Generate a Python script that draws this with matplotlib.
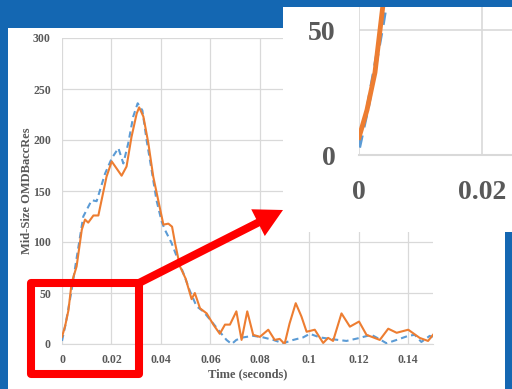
import matplotlib.pyplot as plt
from matplotlib.patches import Rectangle, FancyArrow

plt.rcParams["font.family"] = ["Liberation Serif", "DejaVu Serif"]
plt.rcParams["font.weight"] = "bold"
plt.rcParams["axes.labelweight"] = "bold"

# ---------- data ----------
t_orange = [0, 0.0013, 0.0026, 0.0039, 0.0059, 0.008, 0.0093, 0.0106, 0.0127, 0.0147,
            0.016, 0.018, 0.0201, 0.0221, 0.0241, 0.0261, 0.0281, 0.0302, 0.0312, 0.0329,
            0.0349, 0.0369, 0.0389, 0.041, 0.043, 0.0445, 0.0457, 0.0477, 0.05, 0.0524,
            0.0537, 0.0558, 0.0585, 0.0612, 0.0638, 0.0659, 0.0679, 0.0705, 0.0726, 0.0749,
            0.0773, 0.08, 0.0834, 0.086, 0.088, 0.09, 0.092, 0.0945, 0.0968, 0.0989,
            0.1022, 0.1056, 0.1076, 0.1096, 0.113, 0.1164, 0.1201, 0.1231, 0.1285, 0.1319,
            0.1353, 0.14, 0.1446, 0.148, 0.15]
v_orange = [7, 18, 33, 60, 76, 112, 122, 119, 126, 126,
            141, 164, 179, 172, 165, 174, 203, 226, 232, 223,
            197, 164, 141, 117, 118, 115, 99, 76, 64, 44,
            50, 35, 30, 19, 10, 19, 19, 32, 4, 32,
            9, 7, 14, 4, 5, 0, 20, 40, 27, 12,
            14, 1, 6, 3, 30, 17, 22, 9, 4, 15,
            11, 14, 6, 3, 9]

t_blue = [0, 0.0015, 0.0039, 0.0059, 0.0086, 0.012, 0.014, 0.0174, 0.0201, 0.0228,
          0.0248, 0.0268, 0.0288, 0.0306, 0.0325, 0.0342, 0.0362, 0.0382, 0.0403, 0.0416,
          0.0443, 0.047, 0.049, 0.0517, 0.0544, 0.0571, 0.0605, 0.0638, 0.0665, 0.0686,
          0.0705, 0.0733, 0.0773, 0.0813, 0.0854, 0.0894, 0.0935, 0.0975, 0.1002, 0.1042,
          0.1096, 0.115, 0.1197, 0.1251, 0.1285, 0.1312, 0.1353, 0.14, 0.1426, 0.1453,
          0.1487, 0.15]
v_blue = [3, 20, 53, 84, 125, 141, 140, 167, 182, 192,
          177, 197, 223, 236, 229, 200, 171, 141, 120, 112,
          99, 82, 70, 52, 37, 32, 22, 12, 4, 0,
          4, 6.5, 8, 6.5, 4, 0.7, 4, 6.5, 10, 6.5,
          4.6, 3, 5.6, 9, 4.6, 0.7, 4, 8, 9, 2,
          8, 6]

x_ticks = [0, 0.02, 0.04, 0.06, 0.08, 0.1, 0.12, 0.14]
x_labels = ["0", "0.02", "0.04", "0.06", "0.08", "0.1", "0.12", "0.14"]
y_ticks = [0, 50, 100, 150, 200, 250, 300]

c_orange = "#ED7D31"
c_blue = "#5B9BD5"
c_text = "#595959"
c_grid = "#d9d9d9"

W, H = 512, 389
fig = plt.figure(figsize=(W / 100, H / 100), dpi=100, facecolor="#1467b2")

def px_axes(x0, y0, x1, y1, z):
    # axes placed by pixel box (top-left origin)
    return fig.add_axes([x0 / W, 1 - y1 / H, (x1 - x0) / W, (y1 - y0) / H], zorder=z)

# white panel
bg = fig.add_axes([0, 0, 1, 1], zorder=0)
bg.set_xlim(0, W); bg.set_ylim(H, 0); bg.axis("off")
bg.add_patch(Rectangle((8, 28), 497, 361, facecolor="white", edgecolor="none"))

# ---------- main chart ----------
ax = px_axes(62, 38, 433, 344, 1)
ax.set_facecolor("none")
ax.plot(t_blue, v_blue, color=c_blue, lw=1.5, ls=(0, (3, 2)))
ax.plot(t_orange, v_orange, color=c_orange, lw=1.5)
ax.set_xlim(0, 0.15)
ax.set_ylim(0, 300)
ax.set_xticks(x_ticks, x_labels)
ax.set_yticks(y_ticks)
ax.tick_params(length=0, labelsize=8.5, labelcolor=c_text)
ax.tick_params(axis="y", pad=8)
ax.tick_params(axis="x", pad=7)
ax.grid(True, color=c_grid, lw=0.9)
for s in ["top", "right", "left"]:
    ax.spines[s].set_visible(False)
ax.spines["bottom"].set_color(c_grid)
ax.set_xlabel("Time (seconds)", fontsize=9, color=c_text)
ax.xaxis.set_label_coords(0.5, -0.078)
ax.set_ylabel("Mid-Size OMDBaccRes", fontsize=9, color=c_text)
ax.yaxis.set_label_coords(-0.078, 0.5)

# ---------- red box and arrow ----------
ov = fig.add_axes([0, 0, 1, 1], zorder=2)
ov.set_xlim(0, W); ov.set_ylim(H, 0); ov.axis("off")
ov.add_patch(Rectangle((31, 283), 108, 91, fill=False, edgecolor="red",
                       lw=5.8, joinstyle="round"))
ov.add_patch(FancyArrow(139, 283, 144, -73, width=8, head_width=30, head_length=28,
                        length_includes_head=True, color="red", lw=0))

# ---------- zoomed inset ----------
box = px_axes(283, 7, 512, 232, 3)
box.set_facecolor("white")
box.set_xticks([]); box.set_yticks([])
for s in box.spines.values():
    s.set_visible(False)

ins = px_axes(359, 7, 512, 155, 4)
ins.set_facecolor("none")
ins.plot(t_blue, v_blue, color=c_blue, lw=3, ls=(0, (3, 2)))
ins.plot(t_orange, v_orange, color=c_orange, lw=3.5)
ins.set_xlim(0, 0.0249)
ins.set_ylim(0, 59.2)
ins.set_xticks([0, 0.02], ["0", "0.02"])
ins.set_yticks([0, 50])
ins.tick_params(length=0, labelsize=20, labelcolor=c_text)
ins.tick_params(axis="y", pad=17)
ins.tick_params(axis="x", pad=18)
ins.grid(True, color=c_grid, lw=1.2)
for s in ["top", "right", "left"]:
    ins.spines[s].set_visible(False)
ins.spines["bottom"].set_color(c_grid)
ins.spines["bottom"].set_linewidth(1.5)

fig.savefig("out.png", dpi=100, facecolor=fig.get_facecolor())
